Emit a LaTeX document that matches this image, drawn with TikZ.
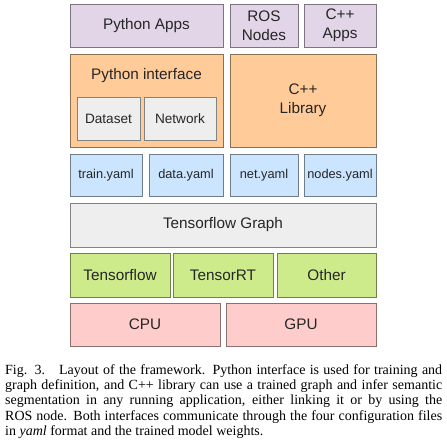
\documentclass[tikz,border=0pt]{standalone}
\usepackage{fontspec}
\setmainfont{Liberation Serif}
\setsansfont{Liberation Sans}
\definecolor{appcol}{HTML}{E1D5E7}
\definecolor{libcol}{HTML}{FFCC99}
\definecolor{modcol}{HTML}{EEEEEE}
\definecolor{cfgcol}{HTML}{CCE5FF}
\definecolor{engcol}{HTML}{CDEB8B}
\definecolor{hwcol}{HTML}{FFCCCC}
\newcommand\bigfont{\sffamily\fontsize{15.3}{18.5}\selectfont}
\newcommand\midfont{\sffamily\fontsize{13.6}{16}\selectfont}
\newcommand\cfgfont{\sffamily\fontsize{12.8}{15}\selectfont}
\begin{document}
\begin{tikzpicture}[x=1pt, y=1pt,
  blk/.style={draw=#1!55!black, fill=#1, line width=0.8pt, text=black!85, font=\bigfont},
  sz/.style 2 args={minimum width=#1pt, minimum height=#2pt}]
  \useasboundingbox (0,0) rectangle (447,443);

  %A: Applications
  \node[blk=appcol, sz={153}{43}] (pyapps) at (146.5,417.5) {Python Apps};
  \node[blk=appcol, sz={68}{43}, align=center] (ros) at (264,417.5) {ROS\\Nodes};
  \node[blk=appcol, sz={72}{43}, align=center] (cppapps) at (340,417.5) {C++\\Apps};

  %A: Interfaces
  \node[blk=libcol, sz={153}{93}] (pyif) at (146.5,342.5) {};
  \node[text=black!85, font=\bigfont] (pyiflabel) at (146.5,367) {Python interface};
  \node[blk=modcol, font=\midfont, sz={63}{43}] (dataset) at (108.5,324.5) {Dataset};
  \node[blk=modcol, font=\midfont, sz={72}{43}] (network) at (180,324.5) {Network};
  \node[blk=libcol, sz={146}{93}, align=center] (cpplib) at (303,342.5) {C++\\Library};

  %A: Configuration files
  \node[blk=cfgcol, font=\cfgfont, sz={72}{42}] (train) at (106,268) {train.yaml};
  \node[blk=cfgcol, font=\cfgfont, sz={74}{42}] (data) at (186,268) {data.yaml};
  \node[blk=cfgcol, font=\cfgfont, sz={68}{42}] (net) at (264,268) {net.yaml};
  \node[blk=cfgcol, font=\cfgfont, sz={72}{42}] (nodes) at (340,268) {nodes.yaml};

  %A: Graph and backends
  \node[blk=modcol, sz={306}{44}] (graph) at (223,218) {Tensorflow Graph};
  \node[blk=engcol, sz={100}{44}] (tf) at (120,168) {Tensorflow};
  \node[blk=engcol, sz={100}{44}] (trt) at (223,168) {TensorRT};
  \node[blk=engcol, sz={99}{44}] (other) at (326.5,168) {Other};

  %A: Hardware
  \node[blk=hwcol, sz={150}{43}] (cpu) at (145,118.5) {CPU};
  \node[blk=hwcol, sz={150}{43}] (gpu) at (301,118.5) {GPU};

  %A: Caption
  \node[anchor=north west, inner sep=0pt, text width=437pt, align=justify] (caption) at (5,79)
    {\fontsize{14}{15.4}\selectfont
     Fig. 3.\hspace{1em}Layout of the framework. Python interface is used for training and\linebreak
     graph definition, and C++ library can use a trained graph and infer semantic\linebreak
     segmentation in any running application, either linking it or by using the\linebreak
     ROS node. Both interfaces communicate through the four configuration files\linebreak
     in \textit{yaml} format and the trained model weights.\par};
\end{tikzpicture}
\end{document}
